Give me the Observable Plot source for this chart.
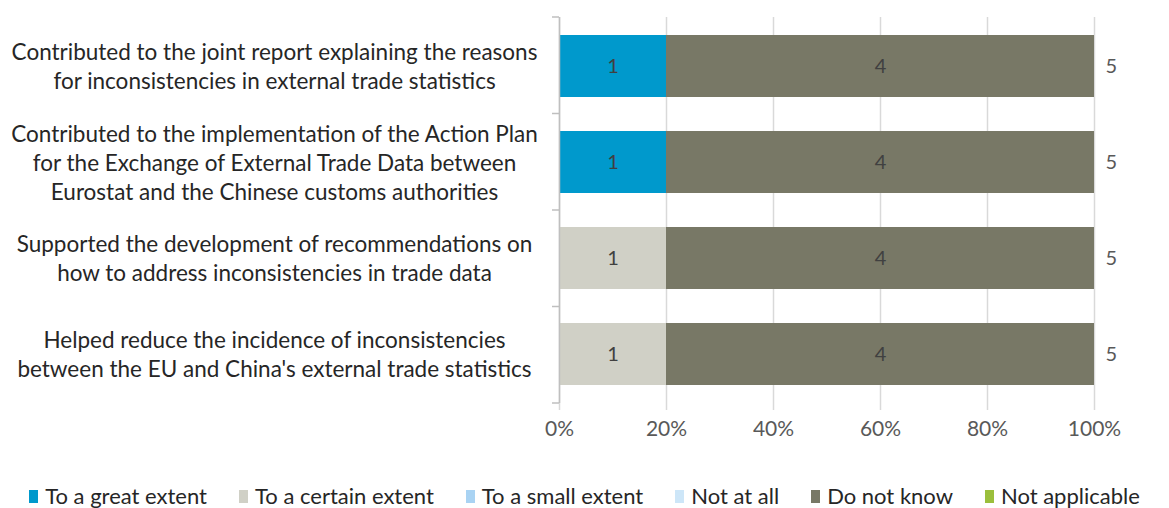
<!DOCTYPE html>
<html>
<head>
<meta charset="utf-8">
<script src="https://cdn.jsdelivr.net/npm/d3@7"></script>
<script src="https://cdn.jsdelivr.net/npm/@observablehq/plot@0.6"></script>
<style>
  html, body { margin: 0; padding: 0; background: #fff; }
  #wrap { position: relative; width: 1169px; height: 508px; font-family: Lato, "Open Sans", sans-serif; }
  #legend { position: absolute; left: 0; top: 485px; width: 1169px; display: flex; justify-content: center; gap: 32px; font-size: 22px; line-height: 22px; color: #262626; }
  #legend .item { display: flex; align-items: center; white-space: nowrap; }
  #legend .sw { width: 9px; height: 13px; margin-right: 7px; display: inline-block; }
</style>
</head>
<body>
<div id="wrap"><div id="chart"></div><div id="legend"></div></div>
<script>
const categories = [
  "Contributed to the joint report explaining the reasons\nfor inconsistencies in external trade statistics",
  "Contributed to the implementation of the Action Plan\nfor the Exchange of External Trade Data between\nEurostat and the Chinese customs authorities",
  "Supported the development of recommendations on\nhow to address inconsistencies in trade data",
  "Helped reduce the incidence of inconsistencies\nbetween the EU and China's external trade statistics"
];
const seriesNames = ["To a great extent", "To a certain extent", "To a small extent", "Not at all", "Do not know", "Not applicable"];
const seriesColors = ["#0099cc", "#d0d0c6", "#a9d3f3", "#cde6f8", "#787866", "#9bbf3c"];
const greatExtent   = [1, 1, 0, 0];
const certainExtent = [0, 0, 1, 1];
const smallExtent   = [0, 0, 0, 0];
const notAtAll      = [0, 0, 0, 0];
const doNotKnow     = [4, 4, 4, 4];
const notApplicable = [0, 0, 0, 0];
const totals        = [5, 5, 5, 5];
const xTicks = [0, 0.2, 0.4, 0.6, 0.8, 1];

const seriesValues = [greatExtent, certainExtent, smallExtent, notAtAll, doNotKnow, notApplicable];
const rows = [];
categories.forEach((c, i) => {
  seriesNames.forEach((s, j) => rows.push({category: c, series: s, value: seriesValues[j][i]}));
});
const totalRows = categories.map((c, i) => ({category: c, total: totals[i]}));

const boundaryTicks = (index, scales, values, dimensions) => {
  const {marginTop, marginBottom, marginLeft, height} = dimensions;
  const g = d3.create("svg:g");
  const n = categories.length;
  const h = height - marginTop - marginBottom;
  for (let k = 0; k <= n; k++) {
    const yy = marginTop + h * k / n;
    g.append("line").attr("x1", marginLeft - 7).attr("x2", marginLeft)
      .attr("y1", yy).attr("y2", yy).attr("stroke", "#bfbfbf").attr("stroke-width", 1.5);
  }
  return g.node();
};

const chart = Plot.plot({
  width: 1169,
  height: 470,
  marginLeft: 559,
  marginRight: 75,
  marginTop: 17,
  marginBottom: 67,
  style: {fontFamily: "Lato, 'Open Sans', sans-serif", background: "#fff"},
  x: {domain: [0, 1], axis: null},
  y: {domain: categories, paddingInner: 0.35, paddingOuter: 0.175, axis: null},
  color: {domain: seriesNames, range: seriesColors},
  marks: [
    Plot.ruleX(xTicks, {stroke: "#d9d9d9", strokeWidth: 1.5, insetBottom: -7}),
    Plot.barX(rows, Plot.stackX({x: "value", y: "category", fill: "series", offset: "normalize", order: seriesNames})),
    Plot.ruleX([0], {stroke: "#bfbfbf", strokeWidth: 1.5}),
    boundaryTicks,
    Plot.text(rows, Plot.stackX({x: "value", y: "category", text: d => d.value > 0 ? String(d.value) : "", offset: "normalize", order: seriesNames, z: "series", fill: "#404040", fontSize: 20})),
    Plot.text(totalRows, {x: 1, y: "category", text: d => String(d.total), textAnchor: "start", dx: 11, fill: "#595959", fontSize: 20}),
    Plot.text(categories, {y: d => d, frameAnchor: "left", dx: -285, dy: -1, textAnchor: "middle", lineHeight: 1.3, fontSize: 22.5, fill: "#262626"}),
    Plot.text(xTicks, {x: d => d, frameAnchor: "bottom", dy: 32, text: d => Math.round(d * 100) + "%", fontSize: 21, fill: "#595959"})
  ]
});
document.getElementById("chart").appendChild(chart);

const legend = document.getElementById("legend");
seriesNames.forEach((s, i) => {
  const it = document.createElement("div");
  it.className = "item";
  const sw = document.createElement("span");
  sw.className = "sw";
  sw.style.background = seriesColors[i];
  it.appendChild(sw);
  it.appendChild(document.createTextNode(s));
  legend.appendChild(it);
});
</script>
</body>
</html>
